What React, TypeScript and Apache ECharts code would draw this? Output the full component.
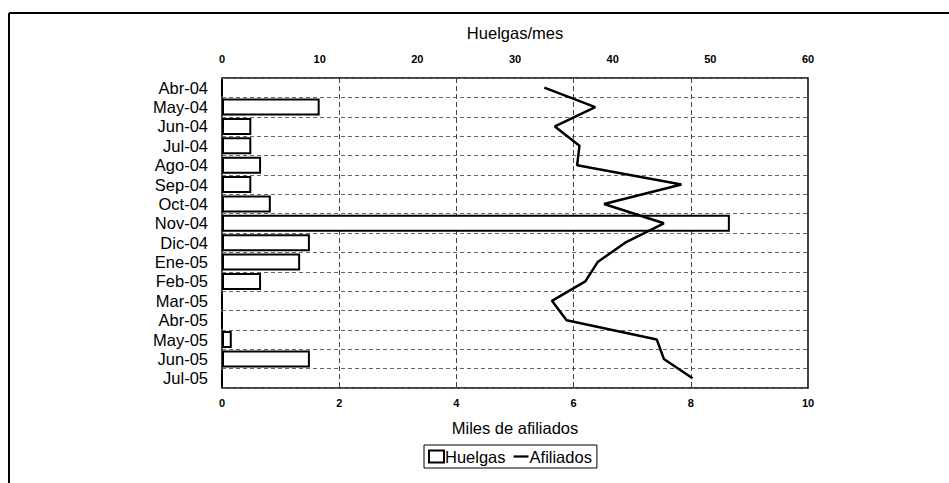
import React, { useEffect, useRef } from "react";
import * as echarts from "echarts";

const months = [
  "Abr-04", "May-04", "Jun-04", "Jul-04", "Ago-04", "Sep-04", "Oct-04", "Nov-04",
  "Dic-04", "Ene-05", "Feb-05", "Mar-05", "Abr-05", "May-05", "Jun-05", "Jul-05",
];
const huelgas = [0, 10, 3, 3, 4, 3, 5, 52, 9, 8, 4, 0, 0, 1, 9, 0];
const afiliados = [5.5, 6.37, 5.68, 6.1, 6.06, 7.84, 6.52, 7.54, 6.88, 6.41, 6.2, 5.63, 5.88, 7.42, 7.54, 8.03];
const huelgasTicks = { min: 0, max: 60, interval: 10 };
const afiliadosTicks = { min: 0, max: 10, interval: 2 };

const FONT = "'Liberation Sans', Arial, sans-serif";

export default function App() {
  const ref = useRef<HTMLDivElement>(null);
  useEffect(() => {
    if (!ref.current) return;
    const chart = echarts.init(ref.current, undefined, { renderer: "svg" });
    chart.setOption({
      animation: false,
      backgroundColor: "#fff",
      textStyle: { fontFamily: FONT, color: "#000" },
      grid: {
        left: 222, right: 141, top: 78, bottom: 95,
        show: true, borderColor: "#000", borderWidth: 1.5, backgroundColor: "transparent",
      },
      graphic: [
        { type: "line", shape: { x1: 9, y1: 13, x2: 949, y2: 13 }, style: { stroke: "#000", lineWidth: 2 } },
        { type: "line", shape: { x1: 9, y1: 13, x2: 9, y2: 483 }, style: { stroke: "#000", lineWidth: 2 } },
      ],
      legend: {
        left: 424, top: 445,
        padding: [3, 5, 3, 4],
        borderColor: "#000", borderWidth: 1,
        itemGap: 8, itemWidth: 15, itemHeight: 12,
        textStyle: { fontSize: 16.5, fontFamily: FONT, color: "#000", padding: [0, 0, 0, -4] },
        data: [
          { name: "Huelgas", icon: "rect" },
          { name: "Afiliados", icon: "path://M0,5h20v3h-20z", itemStyle: { color: "#000", borderWidth: 0 } },
        ],
      },
      xAxis: [
        {
          type: "value", position: "top", ...huelgasTicks,
          name: "Huelgas/mes", nameLocation: "middle", nameGap: 37,
          nameTextStyle: { fontSize: 16.5, fontFamily: FONT, color: "#000" },
          axisLine: { show: false }, axisTick: { show: false }, splitLine: { show: false },
          axisLabel: { fontSize: 11, fontWeight: "bold", color: "#000", margin: 14, fontFamily: FONT },
        },
        {
          type: "value", position: "bottom", ...afiliadosTicks,
          name: "Miles de afiliados", nameLocation: "middle", nameGap: 31,
          nameTextStyle: { fontSize: 16.5, fontFamily: FONT, color: "#000" },
          axisLine: { show: false }, axisTick: { show: false },
          splitLine: { show: true, lineStyle: { color: "#444", type: [5, 3], width: 1 } },
          axisLabel: { fontSize: 11, fontWeight: "bold", color: "#000", margin: 9, fontFamily: FONT },
        },
      ],
      yAxis: {
        type: "category", data: months, inverse: true,
        axisLine: { show: false }, axisTick: { show: false },
        axisLabel: { interval: 0, fontSize: 16.5, color: "#000", margin: 14, fontFamily: FONT },
        splitLine: { show: true, interval: 0, lineStyle: { color: "#666", type: [4, 3], width: 1 } },
      },
      series: [
        {
          name: "Huelgas", type: "bar", xAxisIndex: 0,
          data: huelgas,
          barCategoryGap: "12%",
          itemStyle: { color: "#fff", borderColor: "#000", borderWidth: 2 },
        },
        {
          name: "Afiliados", type: "line", xAxisIndex: 1,
          data: afiliados.map((v, i) => [v, months[i]]),
          symbol: "none", showSymbol: false,
          lineStyle: { color: "#000", width: 2.5 },
          itemStyle: { color: "#000" },
          z: 5,
        },
      ],
    });
    return () => chart.dispose();
  }, []);
  return <div ref={ref} style={{ width: 949, height: 483, position: "absolute", left: 0, top: 0 }} />;
}
